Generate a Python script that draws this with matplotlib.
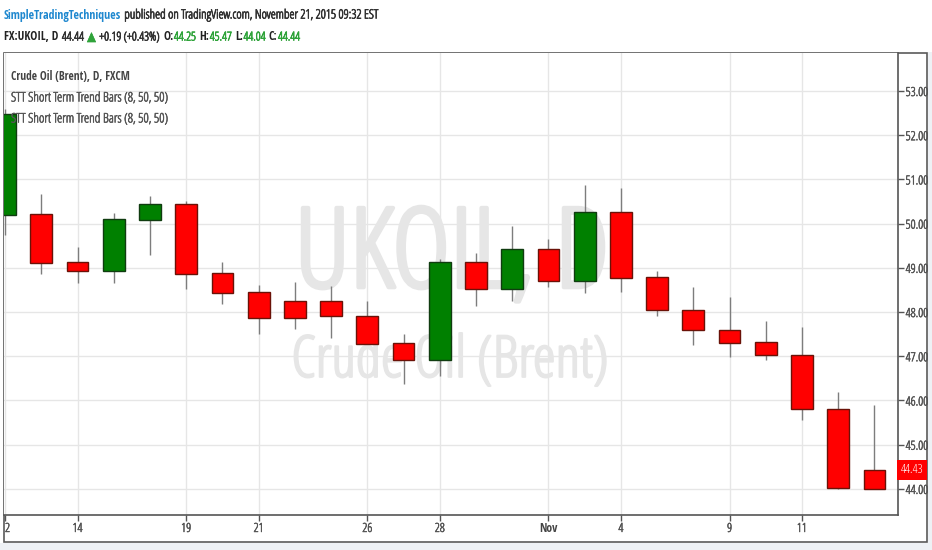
"""
UKOIL daily candles, STT trend bar colouring (TradingView snapshot)
"""

import matplotlib as mpl
mpl.use("Agg")
import matplotlib.pyplot as plt
import matplotlib.patheffects as pe
from matplotlib.patches import Rectangle
from matplotlib.transforms import Bbox, TransformedBbox, blended_transform_factory

# --- data --------------------------------------------------------------------
dates = ["Oct 12", "Oct 13", "Oct 14", "Oct 15", "Oct 16",
         "Oct 19", "Oct 20", "Oct 21", "Oct 22", "Oct 23",
         "Oct 26", "Oct 27", "Oct 28", "Oct 29", "Oct 30",
         "Nov 2", "Nov 3", "Nov 4", "Nov 5", "Nov 6",
         "Nov 9", "Nov 10", "Nov 11", "Nov 12", "Nov 13"]
opens  = [50.19, 50.22, 49.13, 48.93, 50.08, 50.44, 48.88, 48.45, 48.25, 48.25,
          47.91, 47.30, 46.91, 49.13, 48.52, 49.43, 48.70, 50.26, 48.79, 48.05,
          47.59, 47.32, 47.03, 45.81, 44.43]
highs  = [52.60, 50.67, 49.47, 50.24, 50.62, 50.51, 49.13, 48.61, 48.68, 48.59,
          48.25, 47.50, 49.20, 49.33, 49.95, 49.65, 50.87, 50.81, 48.93, 48.57,
          48.34, 47.80, 47.66, 46.19, 45.90]
lows   = [49.74, 48.86, 48.66, 48.66, 49.29, 48.52, 48.18, 47.50, 47.62, 47.41,
          47.27, 46.37, 46.55, 48.14, 48.25, 48.57, 48.43, 48.45, 47.91, 47.25,
          46.98, 46.91, 45.56, 44.00, 44.00]
closes = [52.48, 49.11, 48.93, 50.10, 50.44, 48.86, 48.43, 47.86, 47.86, 47.91,
          47.28, 46.91, 49.13, 48.52, 49.43, 48.70, 50.26, 48.77, 48.05, 47.59,
          47.30, 47.03, 45.81, 44.02, 44.00]
trend  = ["up", "dn", "dn", "up", "up", "dn", "dn", "dn", "dn", "dn",
          "dn", "dn", "up", "dn", "up", "dn", "up", "dn", "dn", "dn",
          "dn", "dn", "dn", "dn", "dn"]
tick_idx    = [0, 2, 5, 7, 10, 12, 15, 17, 20, 22]
tick_labels = ["12", "14", "19", "21", "26", "28", "Nov", "4", "9", "11"]
price_ticks = [44, 45, 46, 47, 48, 49, 50, 51, 52, 53]
last_price = "44.43"

header_user = "SimpleTradingTechniques"
header_pub = "published on TradingView.com, November 21, 2015 09:32 EST"
# (text, colour, bold?)
quote = [("FX:UKOIL, D", "#222222", True), ("44.44", "#333333", False),
         ("▲", "#2fa33a", False), ("+0.19 (+0.43%)", "#333333", False),
         ("O:", "#222222", True), ("44.25", "#2fa33a", False),
         ("H:", "#222222", True), ("45.47", "#2fa33a", False),
         ("L:", "#222222", True), ("44.04", "#2fa33a", False),
         ("C:", "#222222", True), ("44.44", "#2fa33a", False)]

# --- figure ------------------------------------------------------------------
W, H = 932, 550
REG = dict(family=["Open Sans", "DejaVu Sans"], fontstretch="condensed", fontweight=300)
BOLD = dict(family=["Open Sans Condensed", "DejaVu Sans"], fontweight="bold")
fig = plt.figure(figsize=(W / 100, H / 100), dpi=100, facecolor="white")
px = lambda x: x / W
py = lambda y: 1 - y / H

# light page background under / right of the chart frame
fig.patches.append(Rectangle((0, 0), 1, py(543), transform=fig.transFigure,
                             facecolor="#eef1f5", edgecolor="none", zorder=0))
fig.patches.append(Rectangle((px(928), 0), 1, py(52), transform=fig.transFigure,
                             facecolor="#eef1f5", edgecolor="none", zorder=0))
fig.patches.append(Rectangle((px(4), py(542)), px(923), py(53) - py(542),
                             transform=fig.transFigure, facecolor="white",
                             edgecolor="#5a5a5a", lw=1.2, zorder=1))

ax = fig.add_axes([px(4), py(515), px(894), py(53) - py(515)])
ax.set_zorder(2)
ax.set_facecolor("white")

idx = list(range(len(dates)))
colors = ["#008000" if t == "up" else "#ff0000" for t in trend]
edges = ["#103c10" if t == "up" else "#6a1208" for t in trend]
bottoms = [min(o, c) for o, c in zip(opens, closes)]
heights = [abs(c - o) for o, c in zip(opens, closes)]

ax.vlines(idx, lows, highs, color="#7d7d7d", lw=1, zorder=3)
ax.bar(idx, heights, bottom=bottoms, width=0.6, color=colors,
       edgecolor=edges, linewidth=1, zorder=4)

ax.set_xlim(-0.03, 24.65)
ax.set_ylim(43.41, 53.86)
ax.set_xticks(tick_idx)
ax.set_xticklabels(tick_labels)
ax.set_yticks(price_ticks)
ax.set_yticklabels([f"{p:.2f}" for p in price_ticks])
ax.yaxis.tick_right()
ax.grid(True, color="#e6e6e6", lw=1, zorder=0)
ax.set_axisbelow(True)
ax.tick_params(axis="both", length=4, width=1, color="#555555",
               labelcolor="#555555", labelsize=9, pad=1.5)
ax.tick_params(axis="x", pad=1)
for lab in ax.get_xticklabels() + ax.get_yticklabels():
    lab.set_family(REG["family"])
    lab.set_fontstretch("condensed")
    lab.set_fontweight(300)
    lab.set_path_effects([pe.withStroke(linewidth=0.4, foreground="#555555")])
nov = ax.get_xticklabels()[6]
nov.set_family(BOLD["family"])
nov.set_fontweight("bold")
nov.set_fontsize(8.5)
nov.set_color("#444444")
nov.set_path_effects([])
# first date label is cut by the chart frame in the original
frame_clip = TransformedBbox(Bbox([[px(4), 0], [1, 1]]), fig.transFigure)
ax.get_xticklabels()[0].set_clip_box(frame_clip)
ax.get_xticklabels()[0].set_clip_on(True)

for side in ["top", "left"]:
    ax.spines[side].set_visible(False)
for side in ["right", "bottom"]:
    ax.spines[side].set_color("#555555")
    ax.spines[side].set_linewidth(1.2)

# watermark
wm = "#e6e6e6"
ax.text(0.501, 0.493, "UKOIL, D", transform=ax.transAxes, ha="center",
        va="baseline", fontsize=80, color=wm, zorder=1,
        path_effects=[pe.withStroke(linewidth=3, foreground=wm)], **REG)
ax.text(0.499, 0.299, "Crude Oil (Brent)", transform=ax.transAxes, ha="center",
        va="baseline", fontsize=41.5, color=wm, zorder=1,
        path_effects=[pe.withStroke(linewidth=1.5, foreground=wm)], **REG)

# legend lines
fig.text(px(11), py(76), "Crude Oil (Brent), D, FXCM", va="center",
         fontsize=8.3, color="#444444", zorder=5, **BOLD)
for yy in (98, 119):
    fig.text(px(11), py(yy), "STT Short Term Trend Bars (8, 50, 50)", va="center",
             fontsize=9.5, color="#555555", zorder=5,
             path_effects=[pe.withStroke(linewidth=0.4, foreground="#555555")], **REG)

# last price marker
blend = blended_transform_factory(ax.transAxes, ax.transData)
ax.text(1.003, float(last_price), last_price, transform=blend, ha="left",
        va="center", fontsize=9, color="white", zorder=6,
        bbox=dict(boxstyle="square,pad=0.3", facecolor="#ff0000", edgecolor="none"),
        clip_on=False, **REG)

# header, pieces laid out left to right
r = fig.canvas.get_renderer()
t = fig.text(px(4), py(15), header_user, va="center", fontsize=8.6,
             color="#1f88cf", **BOLD)
x = t.get_window_extent(r).x1 + 3
fig.text(px(x), py(15), header_pub, va="center", fontsize=9.2,
         color="#333333", path_effects=[pe.withStroke(linewidth=0.5, foreground="#333333")],
         **REG)

x = 4
for s, col, bold in quote:
    style = BOLD if bold else REG
    eff = [] if bold else [pe.withStroke(linewidth=0.5, foreground=col)]
    t = fig.text(px(x), py(37), s, va="center", fontsize=8.6 if bold else 8.8,
                 color=col, path_effects=eff, **style)
    x = t.get_window_extent(r).x1 + (0.5 if s.endswith(":") else 3.5)

fig.savefig("out.png", dpi=100, facecolor=fig.get_facecolor())
